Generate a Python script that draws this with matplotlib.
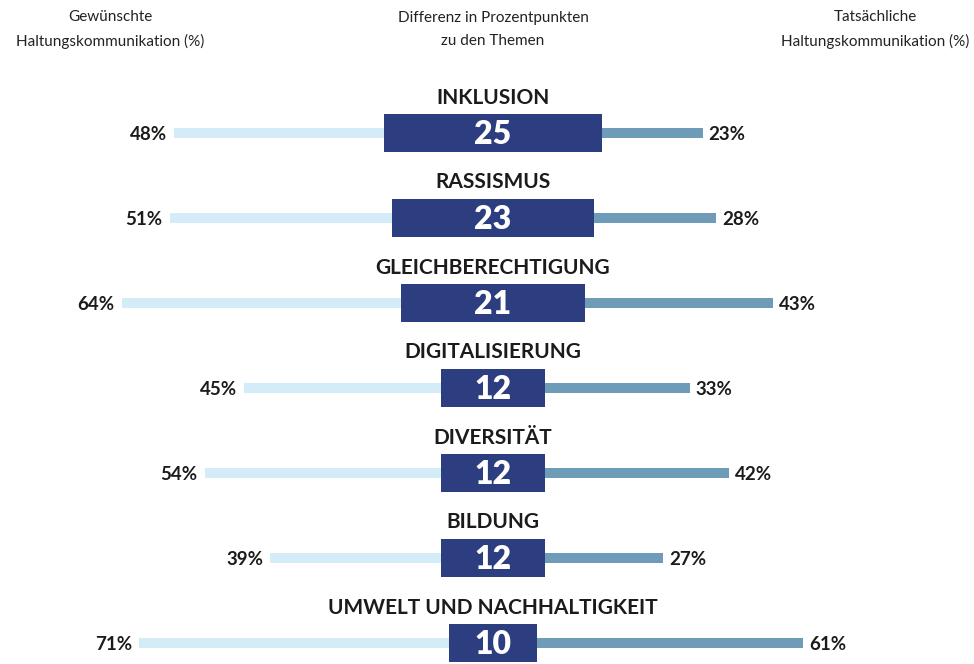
import matplotlib
matplotlib.use("Agg")
import matplotlib.pyplot as plt

plt.rcParams['font.family'] = ['Lato', 'DejaVu Sans']

categories = ["INKLUSION", "RASSISMUS", "GLEICHBERECHTIGUNG", "DIGITALISIERUNG",
              "DIVERSITÄT", "BILDUNG", "UMWELT UND NACHHALTIGKEIT"]
desired = [48, 51, 64, 45, 54, 39, 71]
actual = [23, 28, 43, 33, 42, 27, 61]
difference = [25, 23, 21, 12, 12, 12, 10]

header_left = "Gewünschte\nHaltungskommunikation (%)"
header_mid = "Differenz in Prozentpunkten\nzu den Themen"
header_right = "Tatsächliche\nHaltungskommunikation (%)"

W, H = 974, 664
fig = plt.figure(figsize=(W / 100, H / 100), dpi=100)
ax = fig.add_axes([0, 0, 1, 1])
ax.axis('off')

# layout (pixels)
center_px = 493
px_per_unit = 4.37
row0_px = 133
row_step_px = 85
ax.set_xlim(-center_px / px_per_unit, (W - center_px) / px_per_unit)
ax.set_ylim((H - row0_px) / row_step_px, -row0_px / row_step_px)

box_h = 38 / row_step_px
bar_h = 10 / row_step_px
label_off = 35.5 / row_step_px
gap = 7 / px_per_unit

c_light = "#d4ebf8"
c_mid = "#6e9bb7"
c_navy = "#2d3e80"
c_text = "#1b1b1b"

ys = list(range(len(categories)))
lefts = [-(d + w) for d, w in zip(difference, desired)]
ax.barh(ys, desired, left=lefts, height=bar_h, color=c_light, zorder=1)
ax.barh(ys, actual, left=difference, height=bar_h, color=c_mid, zorder=1)
ax.barh(ys, [2 * d for d in difference], left=[-d for d in difference],
        height=box_h, color=c_navy, zorder=2)

for y, cat, d, w, a in zip(ys, categories, difference, desired, actual):
    ax.text(0, y - label_off, cat, ha='center', va='center', fontsize=15,
            fontweight='bold', color=c_text)
    ax.text(0, y + 0.02, f"{d}", ha='center', va='center', fontsize=23,
            fontweight='heavy', color='white', zorder=3)
    ax.text(-(d + w) - gap, y + 0.02, f"{w}%", ha='right', va='center',
            fontsize=13.5, fontweight='bold', color=c_text)
    ax.text(d + a + gap * 0.85, y + 0.02, f"{a}%", ha='left', va='center',
            fontsize=13.5, fontweight='bold', color=c_text)

for xpx, txt in [(110, header_left), (493, header_mid), (875, header_right)]:
    fig.text(xpx / W, 1 - 29.5 / H, txt, ha='center', va='center', fontsize=11,
             color="#222222", linespacing=1.78)

fig.savefig("out.png", dpi=100, facecolor='white')
